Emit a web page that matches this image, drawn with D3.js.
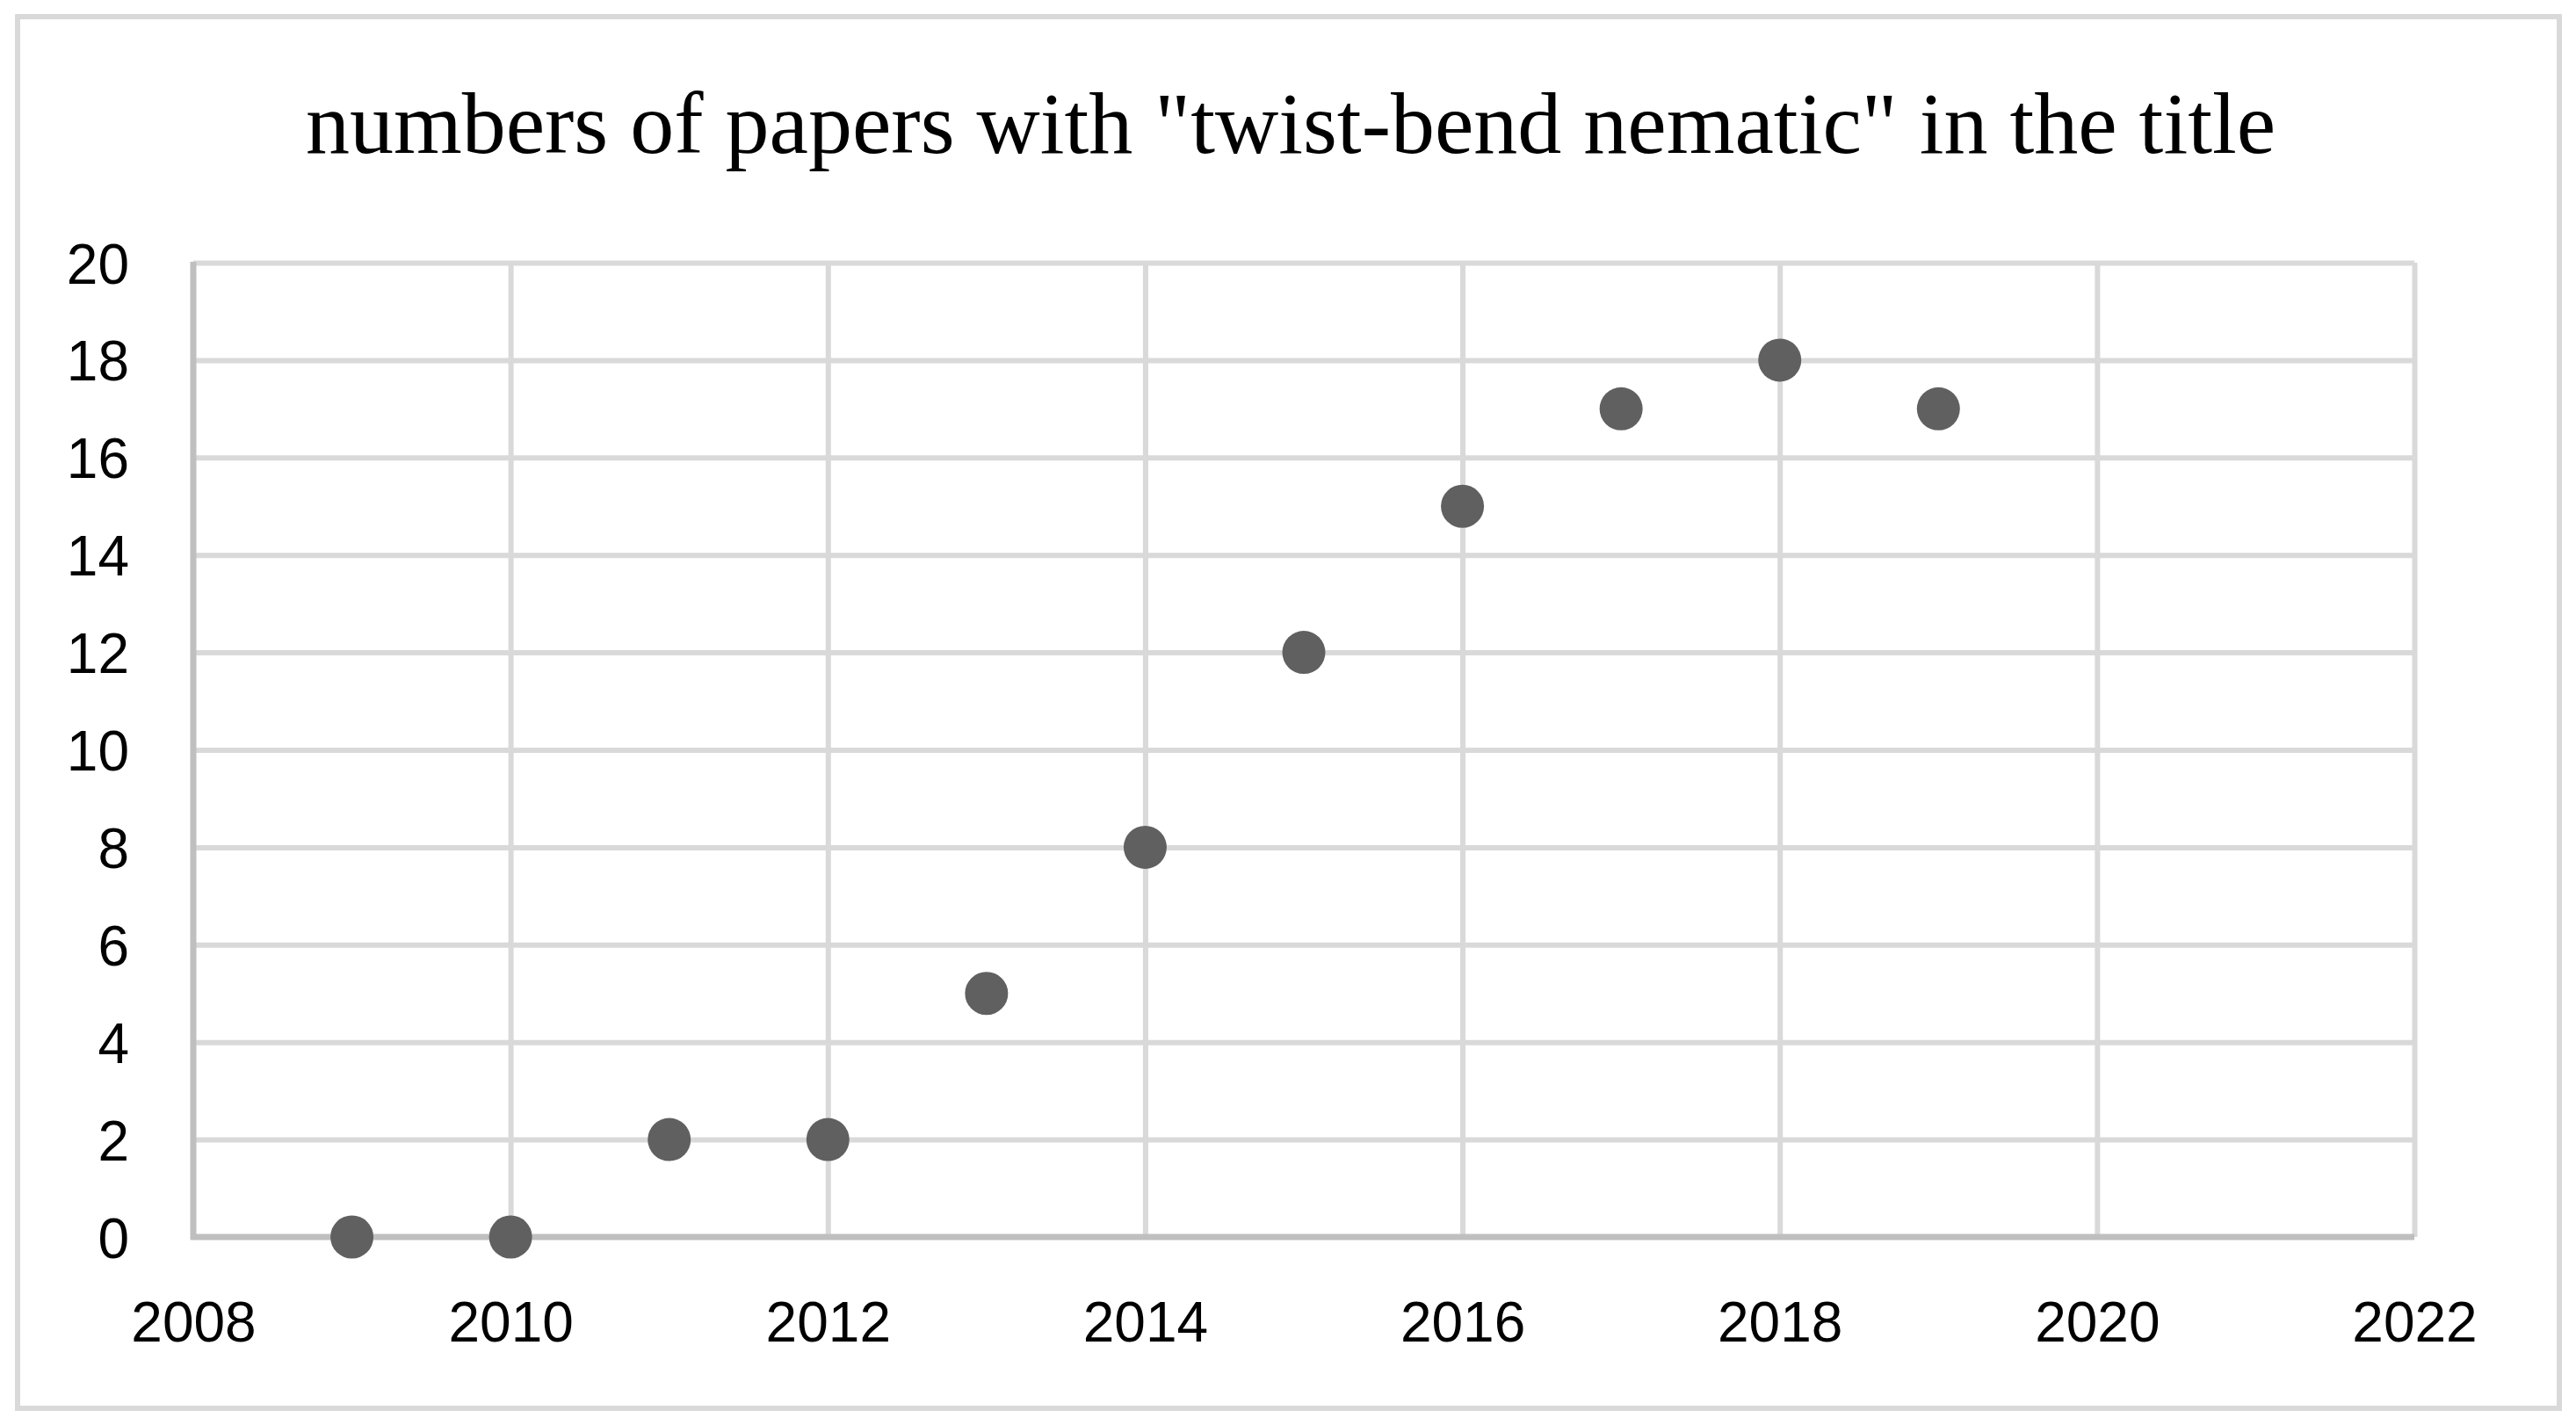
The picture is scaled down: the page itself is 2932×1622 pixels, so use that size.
<!DOCTYPE html>
<html>
<head>
<meta charset="utf-8">
<script src="https://cdn.jsdelivr.net/npm/d3@7"></script>
<style>
  html, body { margin: 0; padding: 0; background: #fff; }
  svg { display: block; }
</style>
</head>
<body>
<svg id="chart" width="2932" height="1622"></svg>
<script>
// ---- data ----
const titleText = 'numbers of papers with "twist-bend nematic" in the title';
const years = [2009, 2010, 2011, 2012, 2013, 2014, 2015, 2016, 2017, 2018, 2019];
const papers = [0, 0, 2, 2, 5, 8, 12, 15, 17, 18, 17];
const xTicks = [2008, 2010, 2012, 2014, 2016, 2018, 2020, 2022];
const yTicks = [0, 2, 4, 6, 8, 10, 12, 14, 16, 18, 20];

// ---- layout ----
const svg = d3.select("#chart");
const plot = { left: 220, right: 2748, top: 299, bottom: 1408 };
const x = d3.scaleLinear().domain([2008, 2022]).range([plot.left, plot.right]);
const y = d3.scaleLinear().domain([0, 20]).range([plot.bottom, plot.top]);

const gridColor = "#d9d9d9";
const axisColor = "#bfbfbf";
const labelFont = "'Liberation Sans', Arial, sans-serif";

// outer frame
svg.append("rect")
  .attr("x", 20).attr("y", 19).attr("width", 2893).attr("height", 1584)
  .attr("fill", "#fff").attr("stroke", gridColor).attr("stroke-width", 6);

// title
svg.append("text")
  .attr("x", 1469).attr("y", 174)
  .attr("text-anchor", "middle")
  .attr("font-family", "'Liberation Serif', 'Times New Roman', serif")
  .attr("font-size", 100)
  .attr("fill", "#000")
  .text(titleText);

// horizontal gridlines (through axis generator)
const yGrid = svg.append("g")
  .attr("transform", `translate(${plot.left},0)`)
  .call(d3.axisLeft(y).tickValues(yTicks.filter(d => d !== 0))
    .tickSize(-(plot.right - plot.left)).tickFormat(""));
yGrid.select(".domain").remove();
yGrid.selectAll(".tick line").attr("stroke", gridColor).attr("stroke-width", 6);

// vertical gridlines
const xGrid = svg.append("g")
  .attr("transform", `translate(0,${plot.bottom})`)
  .call(d3.axisBottom(x).tickValues(xTicks.filter(d => d !== 2008))
    .tickSize(-(plot.bottom - plot.top)).tickFormat(""));
xGrid.select(".domain").remove();
xGrid.selectAll(".tick line").attr("stroke", gridColor).attr("stroke-width", 6);

// axis lines
svg.append("line")
  .attr("x1", x(2008)).attr("x2", x(2008))
  .attr("y1", y(20) - 1).attr("y2", y(0) + 3)
  .attr("stroke", axisColor).attr("stroke-width", 7);
svg.append("line")
  .attr("x1", x(2008) - 3).attr("x2", x(2022))
  .attr("y1", y(0)).attr("y2", y(0))
  .attr("stroke", axisColor).attr("stroke-width", 7);

// y tick labels
const yAxis = svg.append("g")
  .attr("transform", `translate(${plot.left},0)`)
  .call(d3.axisLeft(y).tickValues(yTicks).tickSize(0).tickPadding(73).tickFormat(d3.format("d")));
yAxis.select(".domain").remove();
yAxis.selectAll(".tick text")
  .attr("font-family", labelFont).attr("font-size", 64).attr("fill", "#000")
  .attr("dy", null).attr("y", 23);

// x tick labels
const xAxis = svg.append("g")
  .attr("transform", `translate(0,${plot.bottom})`)
  .call(d3.axisBottom(x).tickValues(xTicks).tickSize(0).tickFormat(d3.format("d")));
xAxis.select(".domain").remove();
xAxis.selectAll(".tick text")
  .attr("font-family", labelFont).attr("font-size", 64).attr("fill", "#000")
  .attr("dy", null).attr("y", 119);

// markers
svg.append("g").selectAll("circle")
  .data(years.map((yr, i) => ({ yr, v: papers[i] })))
  .join("circle")
  .attr("cx", d => x(d.yr))
  .attr("cy", d => y(d.v))
  .attr("r", 24.5)
  .attr("fill", "#606060");
</script>
</body>
</html>
